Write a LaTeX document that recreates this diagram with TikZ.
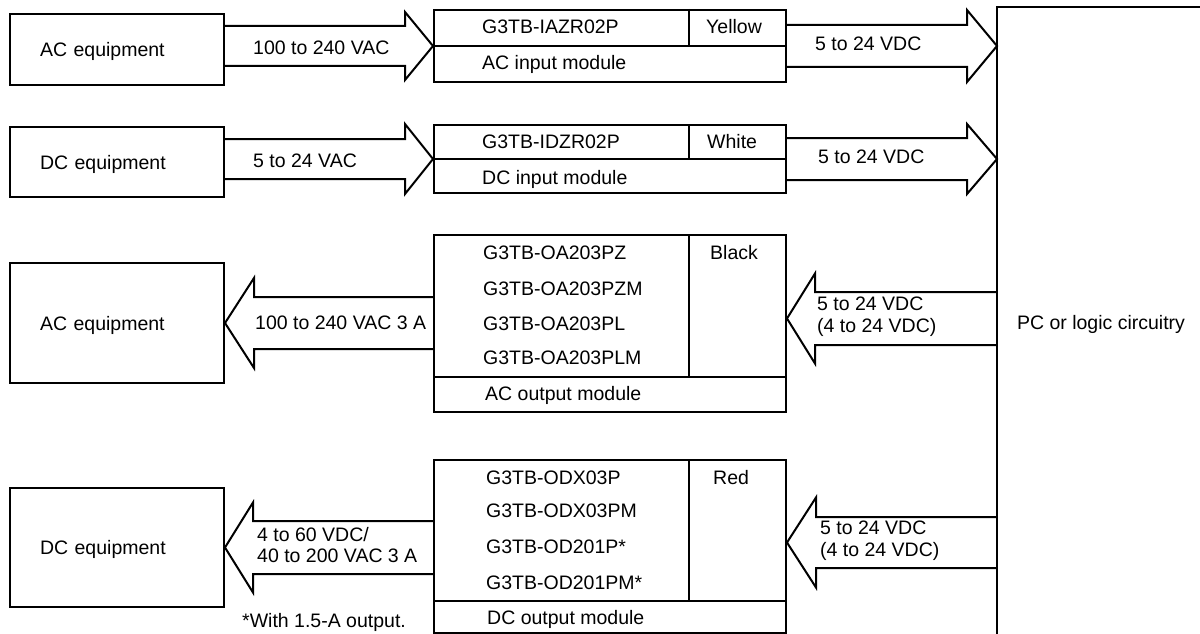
\documentclass[tikz,border=0pt]{standalone}
\usepackage{fontspec}
\setmainfont{Liberation Sans}
\usetikzlibrary{calc}

% fat outline arrow: tail, tip, half shaft, half head, head length
\newcommand{\blockarrow}[5]{%
  \draw[wire] let \p1=(#1), \p2=(#2), \n1={(\x2>\x1)*2-1} in
    (\x1,\y2+#3pt) -- (\x2-\n1*#5pt,\y2+#3pt) -- (\x2-\n1*#5pt,\y2+#4pt) -- (\p2)
    -- (\x2-\n1*#5pt,\y2-#4pt) -- (\x2-\n1*#5pt,\y2-#3pt) -- (\x1,\y2-#3pt);}

\begin{document}
\begin{tikzpicture}[x=1pt, y=-1pt,
    wire/.style={line width=2pt, line join=miter},
    box/.style={draw, line width=2pt, inner sep=0pt, minimum width=214pt,
        text width=154pt, align=left, text height=14pt, text depth=0pt,
        font=\fontsize{19.5}{21}\selectfont},
    module/.style={draw, line width=2pt, inner sep=0pt, minimum width=352pt},
    lbl/.style={font=\fontsize{19.5}{21}\selectfont, inner sep=0pt, anchor=west,
        text height=14pt, text depth=0pt},
    lbltwo/.style={font=\fontsize{19.5}{21.5}\selectfont, inner sep=0pt, anchor=west,
        align=left}]
    \useasboundingbox (0,0) rectangle (1200,634);

    % PC box (runs off the page)
    \coordinate (pc) at (997,7);
    \draw[wire] (1202,7) -- (pc) -- (997,636);
    \node[lbl, anchor=center] (pclbl) at (1101,322) {PC or logic circuitry};

    % Equipment boxes
    \node[box, minimum height=71pt] (acequipin) at (117,49.5) {AC equipment};
    \node[box, minimum height=70pt] (dcequipin) at (117,162) {DC equipment};
    \node[box, minimum height=120pt] (acequipout) at (117,323) {AC equipment};
    \node[box, minimum height=119pt] (dcequipout) at (117,547.5) {DC equipment};

    % Modules
    \node[module, minimum height=72pt] (acin) at (610,46) {};
    \node[module, minimum height=68pt] (dcin) at (610,159) {};
    \node[module, minimum height=177pt] (acout) at (610,323.5) {};
    \node[module, minimum height=173pt] (dcout) at (610,546.5) {};

    % Module dividers
    \draw[wire] (acin.west) -- (acin.east);
    \draw[wire] ([xshift=-98pt]acin.north east) -- ([xshift=-98pt]acin.east);
    \draw[wire] (dcin.west) -- (dcin.east);
    \draw[wire] ([xshift=-98pt]dcin.north east) -- ([xshift=-98pt]dcin.east);
    \draw[wire] ([yshift=36pt]acout.south west) -- ([yshift=36pt]acout.south east);
    \draw[wire] ([xshift=-98pt]acout.north east) -- ([xshift=-98pt,yshift=36pt]acout.south east);
    \draw[wire] ([yshift=33pt]dcout.south west) -- ([yshift=33pt]dcout.south east);
    \draw[wire] ([xshift=-98pt]dcout.north east) -- ([xshift=-98pt,yshift=33pt]dcout.south east);

    % Fat arrows
    \blockarrow{acequipin.east}{acin.west}{20}{34}{28}
    \blockarrow{dcequipin.east}{dcin.west}{20}{35}{28}
    \blockarrow{acin.east}{pc |- acin.east}{21}{36}{30}
    \blockarrow{dcin.east}{pc |- dcin.east}{21}{35}{30}
    \blockarrow{acout.west}{acequipout.east}{26}{45}{29}
    \blockarrow{dcout.west}{dcequipout.east}{26.5}{45}{28}
    \blockarrow{pc}{[yshift=5pt]acout.east}{26.5}{45}{28}
    \blockarrow{pc}{[yshift=4pt]dcout.east}{25.5}{45}{29}

    % Arrow labels
    \node[lbl] (v1) at (253,48) {100 to 240 VAC};
    \node[lbl] (v2) at (253,160) {5 to 24 VAC};
    \node[lbl] (v3) at (255,322) {100 to 240 VAC 3 A};
    \node[lbltwo] (v4) at (257,545) {4 to 60 VDC/\\40 to 200 VAC 3 A};
    \node[lbl] (p1) at (815,44) {5 to 24 VDC};
    \node[lbl] (p2) at (818,156) {5 to 24 VDC};
    \node[lbltwo] (p3) at (817,316.5) {5 to 24 VDC\\(4 to 24 VDC)};
    \node[lbltwo] (p4) at (820,540.5) {5 to 24 VDC\\(4 to 24 VDC)};

    % Module texts
    \node[lbl] (m1) at (482,27) {G3TB-IAZR02P};
    \node[lbl] (c1) at (706,27) {Yellow};
    \node[lbl] (n1) at (482,63) {AC input module};
    \node[lbl] (m2) at (482,141) {G3TB-IDZR02P};
    \node[lbl] (c2) at (707,141) {White};
    \node[lbl] (n2) at (482,177) {DC input module};
    \node[lbl] (m3a) at (483,252) {G3TB-OA203PZ};
    \node[lbl] (m3b) at (483,288) {G3TB-OA203PZM};
    \node[lbl] (m3c) at (483,323) {G3TB-OA203PL};
    \node[lbl] (m3d) at (483,357) {G3TB-OA203PLM};
    \node[lbl] (c3) at (710,252) {Black};
    \node[lbl] (n3) at (485,393) {AC output module};
    \node[lbl] (m4a) at (486,477) {G3TB-ODX03P};
    \node[lbl] (m4b) at (486,510) {G3TB-ODX03PM};
    \node[lbl] (m4c) at (486,546) {G3TB-OD201P*};
    \node[lbl] (m4d) at (486,582) {G3TB-OD201PM*};
    \node[lbl] (c4) at (713,477) {Red};
    \node[lbl] (n4) at (487,617) {DC output module};

    % Footnote
    \node[lbl] (note) at (242,620) {*With 1.5-A output.};
\end{tikzpicture}
\end{document}
